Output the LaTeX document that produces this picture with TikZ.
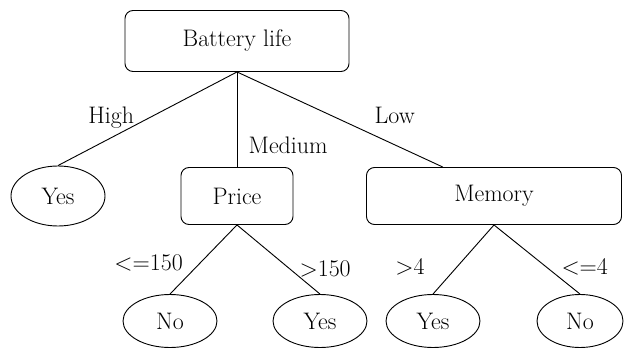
\documentclass[tikz,border=0pt]{standalone}
\usetikzlibrary{shapes.geometric,calc}
\tikzset{
  attr/.style={draw,rounded corners=4mm,minimum height=2.85cm},
  leaf/.style={draw,ellipse,minimum width=4.7cm,minimum height=2.65cm},
  cond/.style={inner sep=2pt}
}
\begin{document}
\begin{tikzpicture}[font=\fontsize{34}{40}\selectfont,line width=1.3pt]
  \useasboundingbox (0,0) rectangle (31.2,17.6);
  \node[attr,minimum width=11.2cm,minimum height=3.05cm] (battery) at (11.85,15.55) {Battery life};
  \node[attr,minimum width=5.6cm] (price) at (11.85,7.8) {Price};
  \node[attr,minimum width=12.75cm] (memory) at (24.7,7.8) {Memory};
  \node[leaf,minimum height=3.0cm] (yeshigh) at (2.9,7.8) {Yes};
  \node[leaf] (nocheap) at (8.5,1.55) {No};
  \node[leaf] (yesdear) at (16,1.55) {Yes};
  \node[leaf] (yesbig) at (21.65,1.55) {Yes};
  \node[leaf,minimum width=4.3cm] (nosmall) at (29,1.55) {No};
  \draw (battery.south) -- node[cond,pos=.62,above left,xshift=14pt] {High} (yeshigh.north);
  \draw (battery.south) -- node[cond,pos=.77,right=14pt] {Medium} (price.north);
  \draw (battery.south) -- node[cond,pos=.66,anchor=south west,yshift=13pt] {Low}
    ($(memory.north west)!.3!(memory.north east)$);
  \draw (price.south) -- node[cond,pos=.55,left=22pt] {\textless{}=150} (nocheap.north);
  \draw (price.south) -- node[cond,pos=.63,right=12pt] {\textgreater{}150} (yesdear.north);
  \draw (memory.south) -- node[cond,pos=.6,left=44pt] {\textgreater{}4} (yesbig.north);
  \draw (memory.south) -- node[cond,pos=.6,right=20pt] {\textless{}=4} (nosmall.north);
\end{tikzpicture}
\end{document}
